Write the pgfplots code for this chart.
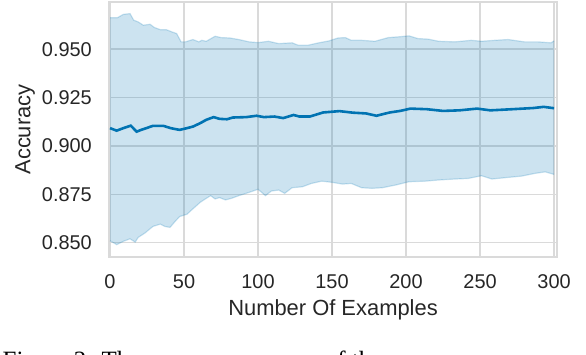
\documentclass[border=0pt]{standalone}
\usepackage{fontspec}
\setmainfont{Liberation Sans}
\newfontfamily\capfont{Liberation Serif}
\usepackage{pgfplots}
\usepackage{pgfplotstable}
\usepgfplotslibrary{fillbetween}
\pgfplotsset{compat=1.18}
\definecolor{sbblue}{RGB}{1,115,178}
\definecolor{gridgray}{RGB}{218,218,218}
\definecolor{txtgray}{RGB}{38,38,38}

% upper / lower edge of the band and the mean
\pgfplotstableread{
x y
0 0.9663
5 0.9663
9 0.9680
13.5 0.9684
16 0.9650
19 0.9641
22.5 0.9624
27 0.9629
30 0.9612
34 0.9601
38 0.9601
42 0.9589
45 0.9581
48 0.9538
51 0.9538
56 0.9550
60 0.9538
62 0.9546
65 0.9541
71 0.9567
75 0.9560
81 0.9558
87 0.9550
94 0.9538
100 0.9534
107 0.9541
114 0.9529
123 0.9533
127 0.9521
134 0.9521
141 0.9533
148 0.9543
154 0.9558
159 0.9560
163 0.9546
170 0.9546
179 0.9541
188 0.9560
195 0.9564
202 0.9569
208 0.9555
215 0.9552
222 0.9541
233 0.9538
244 0.9546
251 0.9541
260 0.9546
269 0.9550
280 0.9538
289 0.9538
298 0.9533
300 0.9543
}\upperband

\pgfplotstableread{
x y
0 0.8510
4.5 0.8490
9 0.8507
13.5 0.8520
17 0.8503
19 0.8527
23.6 0.8550
29 0.8584
34 0.8596
37 0.8584
40.5 0.8579
44 0.8610
47 0.8635
52 0.8647
56 0.8675
61 0.8709
65 0.8729
68 0.8743
71 0.8726
74 0.8733
78 0.8721
82 0.8729
87 0.8743
94 0.8760
100 0.8776
105 0.8743
109 0.8767
114 0.8772
118 0.8755
123 0.8784
130 0.8789
136 0.8806
143 0.8818
150 0.8812
157 0.8803
163 0.8806
170 0.8784
177 0.8781
184 0.8784
193 0.8798
202 0.8815
213 0.8818
222 0.8824
233 0.8829
242 0.8832
251 0.8846
258 0.8829
267 0.8836
278 0.8844
287 0.8858
294 0.8866
300 0.8853
}\lowerband

\pgfplotstableread{
x y
0 0.9092
4.5 0.9079
9 0.9092
14 0.9105
18 0.9074
21 0.9083
24.5 0.9092
29 0.9104
36 0.9104
41 0.9092
47 0.9083
52 0.9092
56 0.9100
61 0.9118
65 0.9135
70 0.9149
74 0.9140
79 0.9138
83 0.9147
92 0.9149
99 0.9156
104 0.9149
111 0.9152
117 0.9144
124 0.9160
128 0.9152
135 0.9152
144 0.9173
155 0.9180
164 0.9172
173 0.9168
180 0.9156
189 0.9173
196 0.9181
203 0.9193
214 0.9190
225 0.9181
236 0.9184
248 0.9193
257 0.9184
272 0.9190
286 0.9196
293 0.9202
300 0.9195
}\meanacc

\begin{document}
\begin{tikzpicture}
  \begin{axis}[
      name=ax,
      at={(0,0)}, anchor=south west,
      scale only axis,
      width=448bp,
      height=255bp,
      xmin=-0.7, xmax=302,
      ymin=0.8426, ymax=0.9744,
      xtick={0,50,...,300},
      ytick={0.850,0.875,0.900,0.925,0.950},
      /pgf/number format/assume math mode=true,
      major tick length=0pt,
      grid=major,
      grid style={draw=gridgray, line width=1.5bp},
      axis line style={draw=gridgray, line width=2bp},
      tick label style={font=\fontsize{20}{24}\selectfont, text=txtgray, inner sep=0pt},
      xticklabel style={yshift=-17bp},
      yticklabel style={xshift=-17bp, /pgf/number format/fixed,
        /pgf/number format/fixed zerofill, /pgf/number format/precision=3},
      label style={font=\fontsize{22}{26}\selectfont, text=txtgray, inner sep=0pt},
      xlabel={Number Of Examples},
      ylabel={Accuracy},
      xlabel style={at={([yshift=-42bp]axis description cs:0.5,0)}, anchor=north},
      ylabel style={at={([xshift=-94bp]axis description cs:0,0.5)}, anchor=north},
    ]
    \addplot[name path=up, sbblue, opacity=0.2, line width=1.2bp] table {\upperband};
    \addplot[name path=lo, sbblue, opacity=0.2, line width=1.2bp] table {\lowerband};
    \addplot[fill=sbblue, fill opacity=0.2, draw=none] fill between[of=up and lo];
    \addplot[sbblue, line width=2.6bp] table {\meanacc};
  \end{axis}
  % caption of the paper, cut by the page edge as in the reference
  \node[anchor=base west, inner sep=0pt, font=\capfont\fontsize{25}{30}\selectfont]
    at (-107bp,-97bp)
    {\smash{\raisebox{-14bp}{\makebox[0pt][l]{Figure 2: The average accuracy of the memory over seen and unseen data}}}};
  % page = 586 x 354, axis box = 448 x 255 with its lower left corner at the origin
  \path (-109bp,-97bp) rectangle (477bp,257bp);
\end{tikzpicture}
\end{document}
